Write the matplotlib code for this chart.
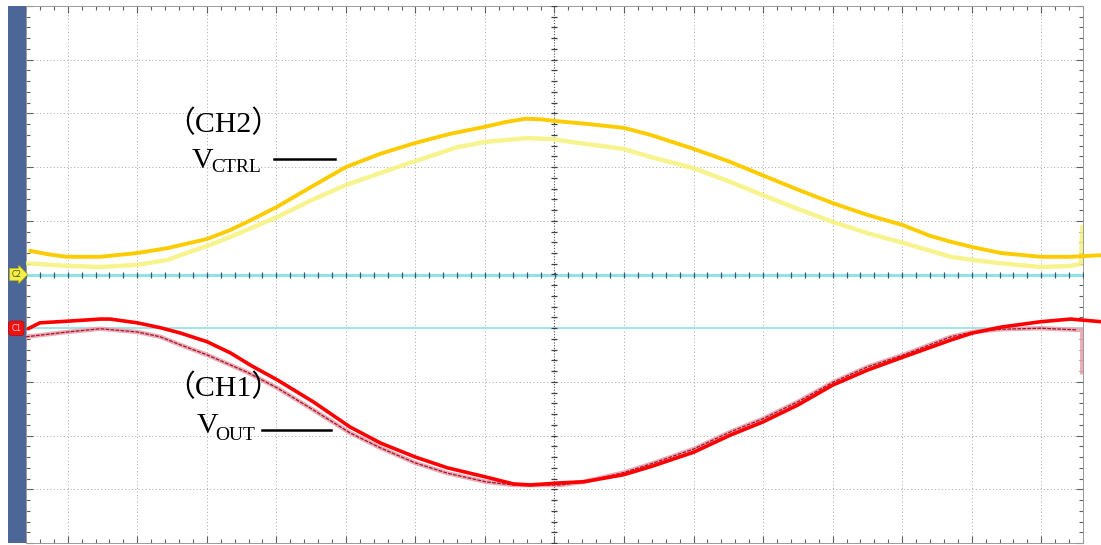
import numpy as np
import matplotlib
matplotlib.use("Agg")
import matplotlib.pyplot as plt
from matplotlib.patches import Rectangle
from matplotlib.ticker import MultipleLocator

# scope readings, in screen divisions (x: time div from centre, y: div from centre)
# CH2 (V_CTRL), bold trace
x_ch2 = [-7.54, -7.25, -7.01, -6.53, -6.0, -5.57, -5.0, -4.66, -4.37, -3.99, -3.5,
         -3.0, -2.5, -2.0, -1.5, -1.0, -0.7, -0.42, -0.2, 0.0, 0.5, 1.0, 1.38, 2.0, 2.5,
         2.99, 3.5, 4.0, 4.5, 5.01, 5.4, 5.70, 6.01, 6.42, 6.99, 7.42, 7.87]
y_ch2 = [0.44, 0.37, 0.33, 0.33, 0.40, 0.49, 0.66, 0.83, 1.01, 1.26, 1.63,
         2.00, 2.25, 2.45, 2.62, 2.75, 2.84, 2.90, 2.89, 2.86, 2.80, 2.73, 2.60, 2.34, 2.11,
         1.85, 1.58, 1.33, 1.11, 0.92, 0.72, 0.61, 0.51, 0.40, 0.33, 0.33, 0.36]

# CH2 raw acquisition
x_ch2_raw = [-7.6, -7.01, -6.53, -6.0, -5.57, -5.38, -5.0, -4.66, -3.99, -3.5, -3.01,
             -2.26, -1.40, -0.99, -0.39, -0.01, 0.23, 0.99, 1.38, 2.0, 2.5, 2.99, 3.5, 4.0,
             4.5, 5.01, 5.70, 6.01, 6.42, 6.99, 7.42, 7.57, 7.59]
y_ch2_raw = [0.21, 0.16, 0.14, 0.18, 0.27, 0.36, 0.53, 0.70, 1.07, 1.38, 1.66,
             2.00, 2.37, 2.47, 2.54, 2.52, 2.47, 2.34, 2.19, 1.98, 1.74, 1.48, 1.22, 0.98,
             0.77, 0.59, 0.33, 0.27, 0.21, 0.14, 0.16, 0.20, 0.88]

# CH1 (V_OUT), bold trace
x_ch1 = [-7.57, -7.40, -7.01, -6.53, -6.39, -6.0, -5.67, -5.38, -5.0, -4.66, -4.37,
         -3.99, -3.47, -2.94, -2.50, -2.0, -1.54, -0.99, -0.59, -0.35, 0.09, 0.42, 0.99,
         1.38, 2.0, 2.53, 2.99, 3.50, 4.0, 4.50, 5.01, 5.70, 6.01, 6.42, 6.99, 7.42, 7.87]
y_ch1 = [-1.01, -0.90, -0.87, -0.83, -0.83, -0.90, -0.99, -1.09, -1.25, -1.46, -1.69,
         -1.96, -2.37, -2.84, -3.14, -3.40, -3.60, -3.77, -3.90, -3.92, -3.88, -3.86, -3.73,
         -3.58, -3.31, -2.99, -2.75, -2.43, -2.06, -1.78, -1.54, -1.22, -1.09, -0.98, -0.88, -0.83, -0.88]

# CH1 raw acquisition
x_ch1_raw = [-7.6, -7.0, -6.53, -6.0, -5.67, -5.38, -4.99, -4.42, -3.99, -3.47, -2.94, -2.50,
             -2.0, -1.54, -0.99, -0.59, 0.09, 0.42, 0.99, 1.38, 2.0, 2.53, 2.99, 3.5, 4.0,
             4.5, 5.01, 5.70, 6.01, 6.42, 6.99, 7.5, 7.59, 7.59]
y_ch1_raw = [-1.16, -1.07, -1.01, -1.07, -1.16, -1.31, -1.50, -1.82, -2.11, -2.52, -2.95, -3.23,
             -3.51, -3.70, -3.86, -3.92, -3.92, -3.86, -3.69, -3.53, -3.25, -2.93, -2.69, -2.37, -2.01,
             -1.72, -1.50, -1.16, -1.07, -1.02, -1.00, -1.03, -1.03, -1.82]

ch2_ref = 0.0
ch1_ref = -1.0

serif = ['Liberation Serif', 'Noto Sans CJK SC']

fig = plt.figure(figsize=(11.01, 5.45), dpi=100)
ax = fig.add_axes([26/1101, 2/545, 1057/1101, 537/545])
ax.set_xlim(-7.6, 7.6)
ax.set_ylim(-5, 5)

# left side bar
fig.patches.append(Rectangle((8/1101, 2/545), 18/1101, 537/545, transform=fig.transFigure,
                             facecolor='#4d6698', edgecolor='none', zorder=-1))

# graticule
for gx in range(-7, 8):
    if gx != 0:
        ax.axvline(gx, color='#a8a8a8', lw=0.7, ls=(0, (1, 2.5)), zorder=1)
for gy in range(-4, 5):
    if gy != 0:
        ax.axhline(gy, color='#a8a8a8', lw=0.7, ls=(0, (1, 2.5)), zorder=1)
ax.axvline(0, color='#505050', lw=0.8, ls=(0, (1, 1.5)), zorder=1)
tk = np.arange(-7.6, 7.61, 0.2)
ax.plot(tk, np.zeros_like(tk), ls='none', marker='|', ms=5, mew=0.9, color='#3a5a6a', zorder=3)
tv = np.arange(-5, 5.01, 0.2)
ax.plot(np.zeros_like(tv), tv, ls='none', marker='_', ms=5, mew=0.9, color='#404040', zorder=3)

ax.xaxis.set_major_locator(MultipleLocator(1))
ax.xaxis.set_minor_locator(MultipleLocator(0.2))
ax.yaxis.set_major_locator(MultipleLocator(1))
ax.yaxis.set_minor_locator(MultipleLocator(0.2))
ax.tick_params(which='both', direction='in', top=True, right=True, color='#606060',
               labelbottom=False, labelleft=False, width=0.8)
ax.tick_params(which='major', length=5)
ax.tick_params(which='minor', length=3)
for s in ax.spines.values():
    s.set_color('#9a9a9a')
    s.set_linewidth(0.7)

# reference lines
ax.axhline(ch2_ref, color='#8fe3e6', lw=2.2, zorder=2)
ax.axhline(ch1_ref, color='#9fe6ea', lw=1.4, zorder=2)

# raw traces
ax.plot(x_ch2_raw, y_ch2_raw, color='#f6f27a', lw=3.2, alpha=0.85, zorder=4, solid_joinstyle='round')
ax.plot(x_ch1_raw, y_ch1_raw, color='#e9a3ad', lw=3.2, alpha=0.9, zorder=4, solid_joinstyle='round')
ax.plot(x_ch1_raw[:-2], y_ch1_raw[:-2], color='#a3122e', lw=0.9, ls=(0, (3, 1)), zorder=4)

# bold traces
ax.plot(x_ch2, y_ch2, color='#fccc00', lw=2.8, zorder=5, clip_on=False,
        solid_joinstyle='round', solid_capstyle='round')
ax.plot(x_ch1, y_ch1, color='#ff0000', lw=2.6, zorder=5, clip_on=False,
        solid_joinstyle='round', solid_capstyle='round')

# channel markers on the bar
ax.text(-7.74, ch2_ref, 'C2', fontsize=5.5, ha='center', va='center', color='#555500', clip_on=False,
        bbox=dict(boxstyle='rarrow,pad=0.2', fc='#f3f04a', ec='#c8b800', lw=0.5), zorder=6)
ax.text(-7.74, ch1_ref, 'C1', fontsize=5.5, ha='center', va='center', color='#ffd0d0', clip_on=False,
        bbox=dict(boxstyle='round,pad=0.35', fc='#ee1111', ec='#cc0000', lw=0.5), zorder=6)

# labels
ax.text(-5.60, 2.65, '（CH2）', fontsize=21.5, family=serif, ha='left', va='baseline', zorder=7)
ax.text(-5.22, 1.98, 'V', fontsize=21.5, family=serif, ha='left', va='baseline', zorder=7)
ax.text(-4.93, 1.91, 'CTRL', fontsize=14, family=serif, ha='left', va='baseline', zorder=7)
ax.plot([-4.03, -3.15], [2.15, 2.15], color='black', lw=1.8, zorder=7)

ax.text(-5.60, -2.26, '（CH1）', fontsize=21.5, family=serif, ha='left', va='baseline', zorder=7)
ax.text(-5.15, -2.95, 'V', fontsize=21.5, family=serif, ha='left', va='baseline', zorder=7)
ax.text(-4.88, -3.08, 'OUT', fontsize=14, family=serif, ha='left', va='baseline', zorder=7)
ax.plot([-4.20, -3.22], [-2.90, -2.90], color='black', lw=1.8, zorder=7)

fig.savefig('out.png', dpi=100)
